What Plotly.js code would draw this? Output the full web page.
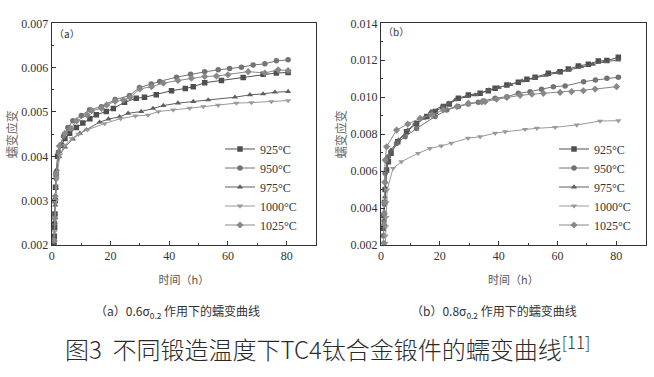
<!DOCTYPE html>
<html><head><meta charset="utf-8">
<script src="https://cdn.plot.ly/plotly-3.0.1.min.js"></script>
<style>html,body{margin:0;padding:0;background:#fff;}#chart{width:654px;height:377px;}</style>
</head><body><div id="chart"></div>
<script>
// ---------- Data: panel (a) 0.6σ0.2 ----------
const seriesNames = ['925°C','950°C','975°C','1000°C','1025°C'];

const a925x = [0.8,0.9,1.0,1.1,1.2,1.3,1.5,2.0,3.3,4.5,6.1,8.4,10.6,13,15.2,18.6,21,24.8,28.8,31.6,35.6,40.8,45.5,48.2,52.1,57.8,65.2,72,76.5,80.5];
const a925y = [0.0020,0.0022,0.0024,0.0027,0.0030,0.0033,0.0036,0.0040,0.00425,0.0044,0.00452,0.00465,0.00475,0.00485,0.00494,0.00501,0.00508,0.00522,0.00531,0.00533,0.00539,0.00548,0.00553,0.00557,0.00566,0.00571,0.00578,0.00585,0.00588,0.00589];

const a950x = [0.8,1.0,1.2,1.5,2.3,4,5.5,7.2,10.1,12.9,16.9,21.6,26.5,29.9,33.9,36.8,42.5,47.3,52.1,56.7,60.6,64.6,68.6,72.6,76.5,80.5];
const a950y = [0.0021,0.0025,0.0030,0.0035,0.0041,0.00445,0.00465,0.0048,0.00492,0.00505,0.00512,0.00528,0.00537,0.00555,0.00563,0.00569,0.005785,0.005853,0.005905,0.00595,0.00598,0.00601,0.00606,0.006086,0.006153,0.006176];

const a975x = [0.8,1.0,1.2,1.4,1.7,2.5,4.5,7.2,9.6,11.8,16.3,19.3,23.1,26,30.5,34.5,38,43,48.2,53.3,62.4,67.5,72,76,80.5];
const a975y = [0.0021,0.0025,0.0029,0.0033,0.0037,0.0040,0.00421,0.00439,0.00452,0.0046,0.00477,0.00484,0.00489,0.00497,0.00501,0.00508,0.005145,0.0052,0.005235,0.005273,0.005333,0.005386,0.005408,0.005446,0.00546];

const a1000x = [0.8,1.0,1.2,1.4,1.7,2.8,4.5,6.8,9.1,12.2,18,23.5,28.5,32.8,36.3,41.4,47,51.6,56.7,62.9,68,74.8,80.5];
const a1000y = [0.0021,0.0023,0.0026,0.0030,0.0035,0.00403,0.00425,0.0044,0.0045,0.0046,0.00474,0.00485,0.00491,0.00493,0.00501,0.005047,0.005086,0.005122,0.005153,0.0052,0.005212,0.005235,0.005257];

const a1025x = [0.8,1.0,1.2,1.5,2.6,4.5,6.5,8.5,12.1,13.6,17,18.7,21.6,24.4,26.7,30,34,38,43,47.6,52.1,56.1,60,66.9,72.6,77.1,80.5];
const a1025y = [0.0021,0.0026,0.0031,0.0036,0.00423,0.00452,0.00463,0.0048,0.00493,0.00503,0.00508,0.00516,0.00524,0.00527,0.00533,0.00552,0.00557,0.00565,0.00571,0.00576,0.0058,0.00581,0.00584,0.00591,0.00588,0.00595,0.005935];

// ---------- Data: panel (b) 0.8σ0.2 ----------
const b925x = [0.8,1.0,1.2,1.4,1.9,2.5,3.4,5.7,8.7,12.1,15.6,18.4,21.2,23.2,26.3,29.7,33.7,36.5,38.8,42.8,46.7,49.6,52.4,56.9,60.9,63.7,67.1,70.5,73.9,76.8,80.7];
const b925y = [0.0029,0.0036,0.0043,0.0050,0.00606,0.00651,0.00696,0.00759,0.00813,0.00858,0.00895,0.00922,0.00949,0.00963,0.00994,0.01012,0.01021,0.01035,0.01048,0.01066,0.01081,0.01097,0.01108,0.01129,0.01138,0.01153,0.01169,0.01178,0.01196,0.01198,0.01216];

const b950x = [0.8,1.0,1.2,1.4,2.5,5.3,8.2,12.1,18.4,22.4,26.3,29.7,33.1,34.8,38.8,42.8,46.7,50.7,54.6,58.6,62.6,68.9,72.9,76.8,80.7];
const b950y = [0.0025,0.0033,0.0042,0.00588,0.00678,0.0075,0.00786,0.00831,0.00895,0.00931,0.00949,0.00963,0.00972,0.0098,0.00994,0.01003,0.01021,0.0103,0.01043,0.01057,0.01061,0.01084,0.01093,0.01102,0.01108];

const b975x = [0.9,1.1,1.3,1.6,2.2,3.4,5.9,9.1,11.6,14.4,17,20.7,22.9,25.2,29.1,32,36.5,40,44,48,52,56,60,64,68,72,76,80.7];
const b975y = [0.0030,0.0038,0.0046,0.0054,0.00651,0.00714,0.00768,0.00822,0.00858,0.00885,0.00922,0.00949,0.00967,0.00985,0.01003,0.01012,0.01039,0.01052,0.01068,0.01088,0.01103,0.01118,0.01134,0.01148,0.01165,0.01178,0.01192,0.01201];

const b1000x = [1.5,1.6,1.7,1.8,1.9,2.1,4.1,6.9,12.6,16.6,20.5,23.9,29.6,33.7,38.8,42.2,49,53,59.2,66.6,74.5,80.7];
const b1000y = [0.0021,0.0025,0.0030,0.0035,0.0043,0.00498,0.00615,0.00651,0.00696,0.00723,0.00736,0.00751,0.00778,0.00786,0.00805,0.00813,0.00826,0.00832,0.00837,0.0085,0.00871,0.00873];

const b1025x = [0.9,1.0,1.1,1.2,1.3,1.4,1.9,5.3,9.1,13.3,17.3,21.2,25.8,29.7,34.3,35.4,39.3,42.8,47.3,51.3,55.2,60.9,64.8,68.8,72.8,80.1];
const b1025y = [0.0021,0.0031,0.0037,0.0043,0.0054,0.0066,0.00732,0.00822,0.00855,0.00885,0.00904,0.00931,0.00949,0.00967,0.00975,0.00976,0.00989,0.00999,0.0101,0.01016,0.01021,0.01026,0.0103,0.01035,0.01044,0.01057];

// ---------- Styles ----------
const symbols = ['square','circle','triangle-up','triangle-down','diamond'];
const colors = ['#4f4f4f','#737373','#5f5f5f','#9a9a9a','#888888'];
const serif = 'Liberation Serif, Times New Roman, serif';
const cjk = 'Noto Sans CJK SC, sans-serif';

const aX = [a925x,a950x,a975x,a1000x,a1025x], aY = [a925y,a950y,a975y,a1000y,a1025y];
const bX = [b925x,b950x,b975x,b1000x,b1025x], bY = [b925y,b950y,b975y,b1000y,b1025y];

const traces = [];
for (let i = 0; i < 5; i++) {
  traces.push({x:aX[i], y:aY[i], xaxis:'x', yaxis:'y', type:'scatter', mode:'lines+markers', name:seriesNames[i],
    legend:'legend', line:{color:colors[i], width:1}, marker:{symbol:symbols[i], size:5.5, color:colors[i]}});
}
for (let i = 0; i < 5; i++) {
  traces.push({x:bX[i], y:bY[i], xaxis:'x2', yaxis:'y2', type:'scatter', mode:'lines+markers', name:seriesNames[i],
    legend:'legend2', line:{color:colors[i], width:1}, marker:{symbol:symbols[i], size:5.5, color:colors[i]}});
}

function xax(domain, anchor) {
  return {domain:domain, anchor:anchor, range:[0,90], tickvals:[0,20,40,60,80], ticks:'inside', ticklen:4,
    tickcolor:'#333', showline:true, linecolor:'#333', linewidth:1, mirror:true, showgrid:false, zeroline:false,
    minor:{ticks:'inside', ticklen:2, dtick:10, tickcolor:'#333'},
    tickfont:{family:serif, size:12, color:'#333'},
    title:{text:'时间（h）', font:{family:cjk, size:11, color:'#555'}, standoff:13}};
}
function yax(domain, anchor, range, dtick, minorDtick) {
  return {domain:domain, anchor:anchor, range:range, dtick:dtick, tick0:range[0], tickformat:'.3f', ticks:'inside', ticklen:4,
    tickcolor:'#333', showline:true, linecolor:'#333', linewidth:1, mirror:true, showgrid:false, zeroline:false,
    minor:{ticks:'inside', ticklen:2, dtick:minorDtick, tickcolor:'#333'},
    tickfont:{family:serif, size:12, color:'#333'},
    title:{text:'蠕变应变', font:{family:cjk, size:12, color:'#666'}, standoff:1}};
}

const yDom = [1-245/377, 1-23.3/377];
const layout = {
  width:654, height:377, margin:{l:0,r:0,t:0,b:0}, paper_bgcolor:'#fff', plot_bgcolor:'#fff', showlegend:true,
  xaxis: xax([51.7/654, 316/654], 'y'),
  yaxis: yax(yDom, 'x', [0.002,0.007], 0.001, 0.0005),
  xaxis2: xax([381/654, 645.7/654], 'y2'),
  yaxis2: yax(yDom, 'x2', [0.002,0.014], 0.002, 0.001),
  legend: {x:220/654, y:1-187/377, xanchor:'left', yanchor:'middle', bgcolor:'rgba(0,0,0,0)',
    font:{family:serif, size:12, color:'#333'}, tracegroupgap:0},
  legend2: {x:554/654, y:1-187/377, xanchor:'left', yanchor:'middle', bgcolor:'rgba(0,0,0,0)',
    font:{family:serif, size:12, color:'#333'}, tracegroupgap:0},
  annotations: [
    {text:'（a）', xref:'paper', yref:'paper', x:52/654, y:1-33/377, xanchor:'left', yanchor:'middle', showarrow:false,
      font:{family:cjk, size:10, color:'#333'}},
    {text:'（b）', xref:'paper', yref:'paper', x:381/654, y:1-32/377, xanchor:'left', yanchor:'middle', showarrow:false,
      font:{family:cjk, size:10, color:'#333'}},
    {text:'（a）0.6σ<sub>0.2</sub> 作用下的蠕变曲线', xref:'paper', yref:'paper', x:177/654, y:1-311/377, xanchor:'center', yanchor:'middle', showarrow:false,
      font:{family:cjk, size:12, color:'#333'}},
    {text:'（b）0.8σ<sub>0.2</sub> 作用下的蠕变曲线', xref:'paper', yref:'paper', x:494/654, y:1-311/377, xanchor:'center', yanchor:'middle', showarrow:false,
      font:{family:cjk, size:12, color:'#333'}},
    {text:'图3  不同锻造温度下TC4钛合金锻件的蠕变曲线<sup>[11]</sup>', xref:'paper', yref:'paper', x:0.5, y:1-348/377, xanchor:'center', yanchor:'middle', showarrow:false,
      font:{family:cjk, size:24, color:'#2a2a2a', weight:300}}
  ]
};

Plotly.newPlot('chart', traces, layout, {displayModeBar:false, staticPlot:true});
</script></body></html>
